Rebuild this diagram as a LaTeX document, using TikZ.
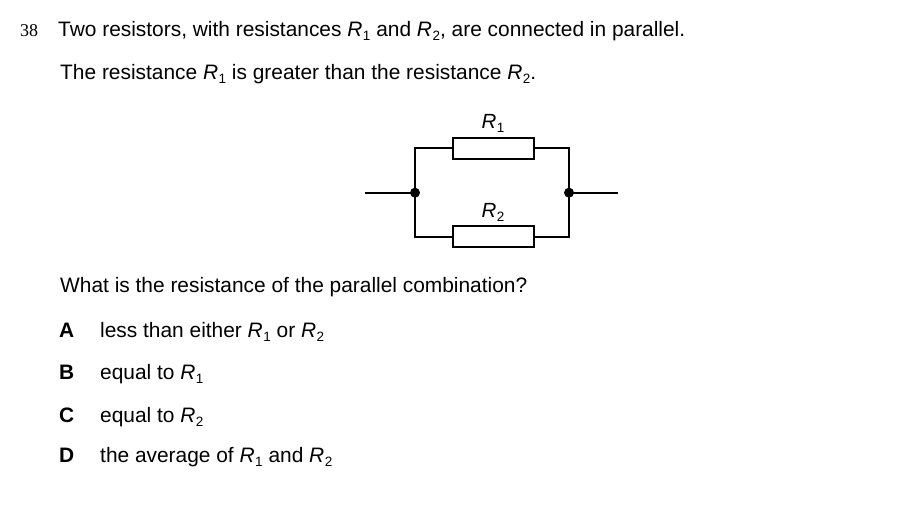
\documentclass[tikz,border=0pt]{standalone}
\usepackage{fontspec}
\setmainfont{Liberation Sans}
\newfontfamily\numfont{Liberation Serif}
\newcommand{\Rs}[1]{\textit{R}\kern0.5pt\raisebox{-4pt}{\fontsize{13.5}{15}\selectfont #1}}
\begin{document}
\begin{tikzpicture}[x=1pt,y=-1pt,
  txt/.style={anchor=base west,inner sep=0pt,font=\fontsize{20.9}{24}\selectfont},
  bold/.style={anchor=base west,inner sep=0pt,font=\fontsize{20.9}{24}\selectfont\bfseries},
  lbl/.style={anchor=base,inner sep=0pt,font=\fontsize{20.5}{24}\selectfont},
  wire/.style={line width=2pt},
  res/.style={draw,line width=2pt,minimum width=81pt,minimum height=21pt,inner sep=0pt},
  dotj/.style={circle,fill=black,inner sep=0pt,minimum size=10pt}]
\useasboundingbox (0,0) rectangle (900,529);
% texts
\node[txt,font=\fontsize{18}{20}\selectfont\numfont] (num) at (20,37) {38};
\node[txt] (l1) at (58,37) {Two resistors, with resistances \Rs{1} and \Rs{2}, are connected in parallel.};
\node[txt] (l2) at (60,80) {The resistance \Rs{1} is greater than the resistance \Rs{2}.};
\node[txt] (q) at (60,293) {What is the resistance of the parallel combination?};
\node[bold] (la) at (59,338) {A};
\node[txt] (ta) at (100,338) {less than either \Rs{1} or \Rs{2}};
\node[bold] (lb) at (59,380) {B};
\node[txt] (tb) at (100,380) {equal to \Rs{1}};
\node[bold] (lc) at (59,422) {C};
\node[txt] (tc) at (100,422) {equal to \Rs{2}};
\node[bold] (ld) at (59,462) {D};
\node[txt] (td) at (100,462) {the average of \Rs{1} and \Rs{2}};
% circuit
\coordinate (inL) at (365,192.7);
\coordinate (outR) at (618,192.7);
\node[dotj] (jL) at (415,192.7) {};
\node[dotj] (jR) at (569,192.7) {};
\node[res] (r1) at (493.3,148.5) {};
\node[res] (r2) at (493.3,237) {};
\node[lbl] (r1l) at (493,129) {\Rs{1}};
\node[lbl] (r2l) at (493,218) {\Rs{2}};
\draw[wire] (inL) -- (jL.center);
\draw[wire] (jR.center) -- (outR);
\draw[wire] (r1.west) -| (jL.center) |- (r2.west);
\draw[wire] (r1.east) -| (jR.center) |- (r2.east);
\end{tikzpicture}
\end{document}
